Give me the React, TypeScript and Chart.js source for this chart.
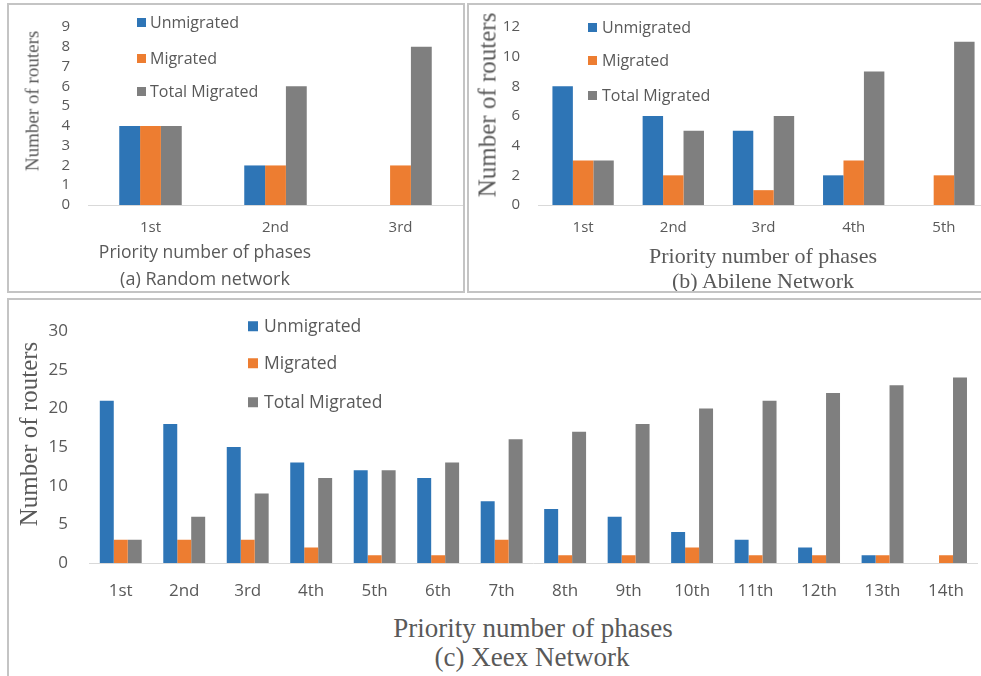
import React, { useEffect, useRef } from "react";
import { Chart, registerables } from "chart.js";

Chart.register(...registerables);

// ---------- data ----------
const SERIES_NAMES = ["Unmigrated", "Migrated", "Total Migrated"];
const SERIES_COLORS = ["#2E75B6", "#ED7D31", "#7F7F7F"];

const randomCategories = ["1st", "2nd", "3rd"];
const randomUnmigrated = [4, 2, 0];
const randomMigrated = [4, 2, 2];
const randomTotal = [4, 6, 8];
const randomYMax = 9;
const randomYStep = 1;

const abileneCategories = ["1st", "2nd", "3rd", "4th", "5th"];
const abileneUnmigrated = [8, 6, 5, 2, 0];
const abileneMigrated = [3, 2, 1, 3, 2];
const abileneTotal = [3, 5, 6, 9, 11];
const abileneYMax = 12;
const abileneYStep = 2;

const xeexCategories = ["1st", "2nd", "3rd", "4th", "5th", "6th", "7th", "8th", "9th", "10th", "11th", "12th", "13th", "14th"];
const xeexUnmigrated = [21, 18, 15, 13, 12, 11, 8, 7, 6, 4, 3, 2, 1, 0];
const xeexMigrated = [3, 3, 3, 2, 1, 1, 3, 1, 1, 2, 1, 1, 1, 1];
const xeexTotal = [3, 6, 9, 11, 12, 13, 16, 17, 18, 20, 21, 22, 23, 24];
const xeexYMax = 30;
const xeexYStep = 5;

const SANS = '"Open Sans", "Liberation Sans", sans-serif';
const SERIF = '"Liberation Serif", "DejaVu Serif", serif';
const TEXT = "#595959";

type BarProps = {
  categories: string[];
  series: number[][];
  yMax: number;
  yStep: number;
  left: number;
  top: number;
  width: number;
  height: number;
  yAxisWidth: number;
  xAxisHeight: number;
  padTop: number;
  catPct: number;
  fontSize: number;
  yTickPad: number;
  xTickPad: number;
};

function BarChart(p: BarProps) {
  const ref = useRef<HTMLCanvasElement>(null);
  useEffect(() => {
    const chart = new Chart(ref.current as HTMLCanvasElement, {
      type: "bar",
      data: {
        labels: p.categories,
        datasets: p.series.map((d, i) => ({
          label: SERIES_NAMES[i],
          data: d,
          backgroundColor: SERIES_COLORS[i],
          borderWidth: 0,
          categoryPercentage: p.catPct,
          barPercentage: 1,
        })),
      },
      options: {
        animation: false,
        responsive: false,
        maintainAspectRatio: false,
        devicePixelRatio: 1,
        layout: { padding: { top: p.padTop, right: 0, left: 0, bottom: 0 } },
        plugins: {
          legend: { display: false },
          tooltip: { enabled: false },
          title: { display: false },
        },
        scales: {
          x: {
            grid: { display: false, drawTicks: false },
            border: { display: true, color: "#D9D9D9", width: 1 },
            ticks: {
              color: TEXT,
              font: { family: SANS, size: p.fontSize },
              padding: p.xTickPad,
              maxRotation: 0,
              autoSkip: false,
            },
            afterFit: (s: any) => {
              s.height = p.xAxisHeight;
            },
          },
          y: {
            min: 0,
            max: p.yMax,
            grid: { display: false, drawTicks: false },
            border: { display: false },
            ticks: {
              stepSize: p.yStep,
              autoSkip: false,
              color: TEXT,
              font: { family: SANS, size: p.fontSize },
              padding: p.yTickPad,
            },
            afterFit: (s: any) => {
              s.width = p.yAxisWidth;
            },
          },
        },
      },
    } as any);
    return () => chart.destroy();
  }, []);
  return (
    <canvas
      ref={ref}
      width={p.width}
      height={p.height}
      style={{ position: "absolute", left: p.left, top: p.top, width: p.width, height: p.height }}
    />
  );
}

function Label(props: { x: number; y: number; text: string; size: number; family: string; rotate?: boolean; color?: string }) {
  return (
    <div
      style={{
        position: "absolute",
        left: props.x,
        top: props.y,
        transform: `translate(-50%, -50%)${props.rotate ? " rotate(-90deg)" : ""}`,
        fontFamily: props.family,
        fontSize: props.size,
        color: props.color || TEXT,
        whiteSpace: "nowrap",
        lineHeight: 1,
      }}
    >
      {props.text}
    </div>
  );
}

function Legend(props: { x: number; ys: number[]; size: number; box: number; gap: number }) {
  return (
    <>
      {SERIES_NAMES.map((n, i) => (
        <div
          key={n}
          style={{
            position: "absolute",
            left: props.x,
            top: props.ys[i],
            transform: "translateY(-50%)",
            display: "flex",
            alignItems: "center",
            fontFamily: SANS,
            fontSize: props.size,
            color: TEXT,
            whiteSpace: "nowrap",
            lineHeight: 1,
          }}
        >
          <span style={{ display: "inline-block", width: props.box, height: props.box, background: SERIES_COLORS[i], marginRight: props.gap }} />
          {n}
        </div>
      ))}
    </>
  );
}

function Box(props: { left: number; top: number; width: number; height: number }) {
  return (
    <div
      style={{
        position: "absolute",
        left: props.left,
        top: props.top,
        width: props.width,
        height: props.height,
        boxSizing: "border-box",
        border: "2px solid #C4C4C4",
        pointerEvents: "none",
      }}
    />
  );
}

export default function App() {
  return (
    <div style={{ position: "absolute", left: 0, top: 0, width: 981, height: 676, overflow: "hidden", background: "#fff" }}>
      {/* (a) Random network */}
      <BarChart
        categories={randomCategories}
        series={[randomUnmigrated, randomMigrated, randomTotal]}
        yMax={randomYMax}
        yStep={randomYStep}
        left={40}
        top={0}
        width={423}
        height={245}
        yAxisWidth={48}
        xAxisHeight={40}
        padTop={17}
        catPct={0.5}
        fontSize={15}
        yTickPad={18}
        xTickPad={14}
      />
      <Legend x={137} ys={[22, 58, 91]} size={16} box={9} gap={4} />
      <Label x={32} y={101} text="Number of routers" size={19} family={SERIF} rotate />
      <Label x={205} y={252} text="Priority number of phases" size={17.5} family={SANS} />
      <Label x={205} y={278} text="(a) Random network" size={18} family={SANS} />
      <Box left={7} top={3} width={458} height={290} />

      {/* (b) Abilene Network */}
      <BarChart
        categories={abileneCategories}
        series={[abileneUnmigrated, abileneMigrated, abileneTotal]}
        yMax={abileneYMax}
        yStep={abileneYStep}
        left={490}
        top={0}
        width={499}
        height={245}
        yAxisWidth={48}
        xAxisHeight={40}
        padTop={17.5}
        catPct={0.68}
        fontSize={15}
        yTickPad={18}
        xTickPad={14}
      />
      <Legend x={588} ys={[27, 60, 95]} size={16} box={9} gap={5} />
      <Label x={487} y={105} text="Number of routers" size={25} family={SERIF} rotate />
      <Label x={763} y={256} text="Priority number of phases" size={22} family={SERIF} />
      <Label x={763} y={281} text="(b) Abilene Network" size={22} family={SERIF} />
      <Box left={467} top={3} width={530} height={290} />

      {/* (c) Xeex Network */}
      <BarChart
        categories={xeexCategories}
        series={[xeexUnmigrated, xeexMigrated, xeexTotal]}
        yMax={xeexYMax}
        yStep={xeexYStep}
        left={30}
        top={300}
        width={952}
        height={300}
        yAxisWidth={59}
        xAxisHeight={37}
        padTop={19.4}
        catPct={0.66}
        fontSize={17}
        yTickPad={21}
        xTickPad={18}
      />
      <Legend x={248} ys={[326, 363, 402]} size={17.5} box={10} gap={6} />
      <Label x={28} y={434} text="Number of routers" size={25} family={SERIF} rotate />
      <Label x={533} y={628} text="Priority number of phases" size={27} family={SERIF} />
      <Label x={532} y={657} text="(c) Xeex Network" size={27} family={SERIF} />
      <Box left={7} top={298} width={990} height={400} />
    </div>
  );
}
